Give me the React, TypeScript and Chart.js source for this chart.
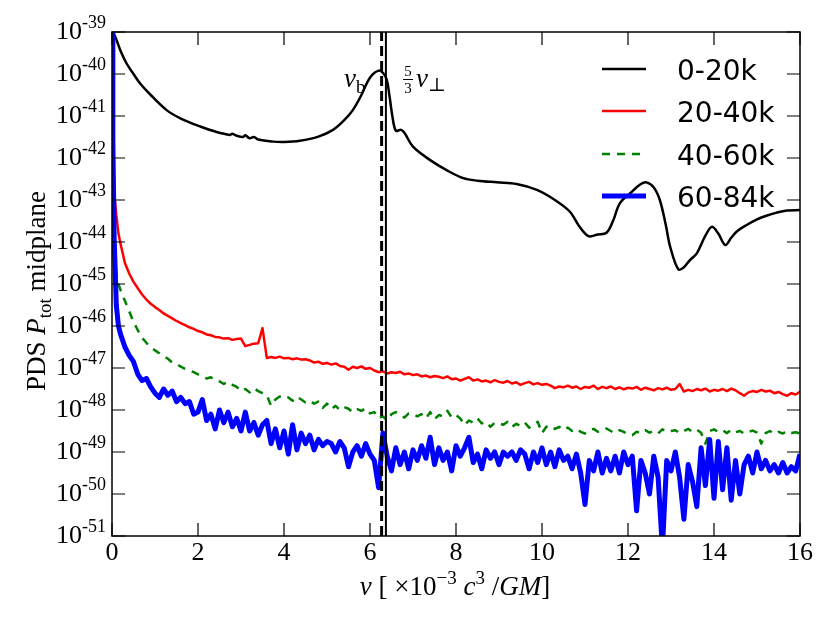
import { useEffect, useRef } from "react"
import { Chart, registerables } from "chart.js"

Chart.register(...registerables)

// frequency grid (x 10^-3 c^3/GM) shared by the noisy spectra
const freqGrid = [
  0, 0.02, 0.05, 0.1, 0.15,
  0.2, 0.3, 0.4, 0.5, 0.6, 0.7, 0.8, 0.9, 1.0,
  1.1, 1.2, 1.3, 1.4, 1.5, 1.6, 1.7, 1.8, 1.9, 2.0,
  2.1, 2.2, 2.3, 2.4, 2.5, 2.6, 2.7, 2.8, 2.9, 3.0,
  3.1, 3.2, 3.3, 3.4, 3.5, 3.6, 3.7, 3.8, 3.9, 4.0,
  4.1, 4.2, 4.3, 4.4, 4.5, 4.6, 4.7, 4.8, 4.9, 5.0,
  5.1, 5.2, 5.3, 5.4, 5.5, 5.6, 5.7, 5.8, 5.9, 6.0,
  6.1, 6.2, 6.3, 6.4, 6.5, 6.6, 6.7, 6.8, 6.9, 7.0,
  7.1, 7.2, 7.3, 7.4, 7.5, 7.6, 7.7, 7.8, 7.9, 8.0,
  8.1, 8.2, 8.3, 8.4, 8.5, 8.6, 8.7, 8.8, 8.9, 9.0,
  9.1, 9.2, 9.3, 9.4, 9.5, 9.6, 9.7, 9.8, 9.9, 10.0,
  10.1, 10.2, 10.3, 10.4, 10.5, 10.6, 10.7, 10.8, 10.9, 11.0,
  11.1, 11.2, 11.3, 11.4, 11.5, 11.6, 11.7, 11.8, 11.9, 12.0,
  12.1, 12.2, 12.3, 12.4, 12.5, 12.6, 12.7, 12.8, 12.9, 13.0,
  13.1, 13.2, 13.3, 13.4, 13.5, 13.6, 13.7, 13.8, 13.9, 14.0,
  14.1, 14.2, 14.3, 14.4, 14.5, 14.6, 14.7, 14.8, 14.9, 15.0,
  15.1, 15.2, 15.3, 15.4, 15.5, 15.6, 15.7, 15.8, 15.9, 16.0,
]

// log10 of the PDS
const redLog = [
  -41.0, -42.3, -42.8, -43.35, -43.8,
  -44.05, -44.5, -44.75, -44.95, -45.1, -45.25, -45.37, -45.47, -45.55,
  -45.62, -45.7, -45.76, -45.82, -45.88, -45.93, -45.98, -46.03, -46.07, -46.12,
  -46.15, -46.2, -46.22, -46.26, -46.27, -46.3, -46.29, -46.33, -46.31, -46.3,
  -46.48, -46.45, -46.42, -46.41, -46.05, -46.76, -46.74, -46.76, -46.73, -46.77,
  -46.76, -46.79, -46.77, -46.8, -46.79, -46.82, -46.87, -46.85, -46.9, -46.88,
  -46.92, -46.89, -46.95, -46.97, -47.04, -46.97, -47.0, -46.96, -47.02, -47.0,
  -47.06, -47.1, -47.08, -47.13, -47.1, -47.12, -47.09, -47.15, -47.13, -47.17,
  -47.15, -47.2, -47.18, -47.22, -47.19, -47.21, -47.24, -47.2, -47.27, -47.25,
  -47.3, -47.26, -47.22, -47.3, -47.27, -47.32, -47.3, -47.34, -47.29, -47.33,
  -47.35, -47.31, -47.37, -47.34, -47.4, -47.36, -47.33, -47.39, -47.36, -47.4,
  -47.38, -47.42, -47.48, -47.44, -47.46, -47.42, -47.47, -47.44, -47.5, -47.45,
  -47.47, -47.42, -47.5, -47.45, -47.48, -47.44, -47.5, -47.46, -47.51, -47.47,
  -47.49, -47.45, -47.52, -47.47, -47.5, -47.53, -47.48, -47.51, -47.47, -47.52,
  -47.5, -47.38, -47.56, -47.52, -47.55, -47.5, -47.53, -47.49, -47.56, -47.52,
  -47.54, -47.5, -47.55, -47.49, -47.53, -47.6, -47.66, -47.58, -47.55, -47.57,
  -47.52, -47.56, -47.54, -47.6, -47.57, -47.62, -47.66, -47.6, -47.63, -47.57,
]

const greenLog = [
  -42.5, -43.8, -44.3, -44.75, -45.0,
  -45.15, -45.4, -45.65, -45.9, -46.1, -46.28, -46.4, -46.5, -46.58,
  -46.65, -46.72, -46.78, -46.87, -46.9, -46.97, -47.02, -47.06, -47.1, -47.15,
  -47.2, -47.25, -47.22, -47.3, -47.32, -47.38, -47.33, -47.4, -47.45, -47.55,
  -47.5, -47.58, -47.48, -47.55, -47.6, -47.65, -47.9, -47.75, -47.68, -47.65,
  -47.7, -47.78, -47.68, -47.75, -47.82, -47.78, -47.85, -47.8, -47.95, -47.85,
  -47.98, -47.9, -48.0, -47.93, -47.97, -48.05, -47.98, -48.02, -47.96, -48.08,
  -48.05, -48.2, -48.15, -48.25, -48.1, -48.05, -48.12, -48.18, -48.08, -48.1,
  -48.15, -48.1, -48.2, -48.05, -48.22, -48.12, -48.15, -48.02, -48.18, -48.12,
  -48.2, -48.36, -48.25, -48.3, -48.2, -48.32, -48.28, -48.4, -48.3, -48.32,
  -48.35, -48.28, -48.4, -48.33, -48.38, -48.3, -48.42, -48.35, -48.28, -48.55,
  -48.4, -48.37, -48.45, -48.4, -48.48, -48.42, -48.5, -48.45, -48.52, -48.56,
  -48.48, -48.45, -48.52, -48.48, -48.44, -48.5, -48.55, -48.48, -48.52, -48.58,
  -48.6, -48.52, -48.55, -48.48, -48.54, -48.5, -48.56, -48.46, -48.52, -48.5,
  -48.48, -48.55, -48.5, -48.45, -48.52, -48.47, -48.54, -48.8, -48.5, -48.46,
  -48.52, -48.48, -48.55, -48.47, -48.53, -48.5, -48.56, -48.52, -48.49, -48.54,
  -48.8, -48.55, -48.5, -48.57, -48.52, -48.56, -48.5, -48.55, -48.53, -48.56,
]

const blueLog = [
  -39.0, -41.6, -43.9, -45.5, -46.0,
  -46.2, -46.5, -46.7, -46.85, -47.15, -47.3, -47.25, -47.45, -47.6,
  -47.7, -47.5, -47.65, -47.55, -47.8, -47.7, -47.85, -47.8, -48.1, -48.05,
  -47.75, -48.25, -48.1, -48.45, -48.0, -48.3, -48.05, -48.4, -48.2, -48.5,
  -48.05, -48.5, -48.3, -48.6, -48.35, -48.25, -48.8, -48.45, -48.9, -48.5,
  -49.05, -48.35, -48.95, -48.55, -48.8, -48.6, -48.95, -48.7, -48.85, -48.75,
  -48.8, -49.0, -48.75, -48.9, -49.35, -49.0, -48.85, -49.1, -48.8, -49.05,
  -49.2, -49.85, -48.55, -49.1, -49.45, -48.9, -49.3, -49.0, -49.4, -48.95,
  -49.2, -48.85, -49.15, -48.65, -49.3, -48.9, -49.2, -49.0, -49.45, -48.85,
  -49.1, -48.9, -48.65, -49.25, -49.05, -49.4, -48.95, -49.15, -49.0, -49.3,
  -49.0, -49.1, -49.0, -49.2, -48.95, -49.05, -49.4, -49.0, -49.25, -48.9,
  -49.3, -49.0, -49.35, -48.95, -49.2, -49.1, -49.4, -49.05, -49.5, -50.25,
  -49.2, -49.45, -49.0, -49.5, -49.15, -49.45, -49.1, -49.5, -49.0, -49.3,
  -49.1, -50.4, -49.2, -49.5, -50.0, -49.1, -49.6, -51.3, -49.2, -49.45,
  -49.0, -49.6, -50.6, -49.3, -49.7, -50.3, -48.9, -49.8, -48.7, -50.1,
  -48.75, -49.9, -48.9, -50.15, -49.2, -50.0, -49.3, -49.1, -49.5, -49.0,
  -49.4, -49.2, -49.45, -49.3, -49.5, -49.25, -49.5, -49.35, -49.45, -49.05,
]

// the smooth 0-20k spectrum has its own sample points
const blackNu = [
  0, 0.07, 0.2, 0.34, 0.5, 0.65, 0.9, 1.27, 1.6, 2.05, 2.4, 2.74, 2.8, 2.9, 3.05,
  3.1, 3.2, 3.3, 3.4, 3.75, 4.0, 4.37, 4.8, 5.14, 5.4, 5.6, 5.8, 5.93, 6.05, 6.2,
  6.3, 6.39, 6.45, 6.52, 6.6, 6.72, 6.8, 7.0, 7.4, 7.8, 8.17, 8.5, 8.95, 9.41,
  9.88, 10.3, 10.65, 10.85, 11.08, 11.3, 11.5, 11.65, 11.81, 12.05, 12.3, 12.43,
  12.6, 12.74, 12.88, 12.98, 13.17, 13.3, 13.44, 13.6, 13.8, 13.95, 14.1, 14.26,
  14.4, 14.53, 14.75, 15.0, 15.2, 15.46, 15.7, 16.0,
]
const blackLog = [
  -39.0, -39.1, -39.45, -39.75, -40.0, -40.22, -40.5, -40.86, -41.06, -41.25, -41.37, -41.45, -41.42, -41.47, -41.5,
  -41.46, -41.53, -41.5, -41.56, -41.61, -41.62, -41.59, -41.49, -41.33, -41.1, -40.86, -40.5, -40.21, -40.02, -39.92,
  -39.97, -40.14, -40.5, -41.0, -41.35, -41.33, -41.4, -41.73, -42.05, -42.3, -42.48, -42.54, -42.58, -42.62,
  -42.76, -43.0, -43.28, -43.6, -43.86, -43.82, -43.78, -43.5, -43.08, -42.84, -42.62, -42.58,
  -42.7, -43.0, -43.6, -44.11, -44.65, -44.6, -44.43, -44.27, -43.85, -43.64, -43.8, -44.07,
  -43.9, -43.75, -43.6, -43.46, -43.38, -43.3, -43.25, -43.24,
]

const seriesLabels = ["0-20k", "20-40k", "40-60k", "60-84k"]

// marked frequencies: nu_b and (5/3) nu_perp
const nuB = 6.27
const nuPerp53 = 6.37

const xTicks = [0, 2, 4, 6, 8, 10, 12, 14, 16]
const yExps = [-51, -50, -49, -48, -47, -46, -45, -44, -43, -42, -41, -40, -39]

const SERIF = '"Liberation Serif", "DejaVu Serif", serif'

type Seg = { t: string; size: number; italic?: boolean; dy?: number }

function drawSegs(ctx: CanvasRenderingContext2D, segs: Seg[], x: number, y: number, measureOnly = false) {
  let cx = x
  for (const s of segs) {
    ctx.font = `${s.italic ? "italic " : ""}${s.size}px ${SERIF}`
    if (!measureOnly) ctx.fillText(s.t, cx, y + (s.dy || 0))
    cx += ctx.measureText(s.t).width
  }
  return cx - x
}

const decorations = {
  id: "decorations",
  afterDraw(chart: any) {
    const { ctx, chartArea: a } = chart
    const xs = chart.scales.x
    const ys = chart.scales.y
    ctx.save()
    ctx.strokeStyle = "#000"
    ctx.fillStyle = "#000"

    // frame
    ctx.lineWidth = 1.5
    ctx.strokeRect(a.left, a.top, a.right - a.left, a.bottom - a.top)

    // inward ticks
    ctx.lineWidth = 1.2
    ctx.beginPath()
    for (const v of xTicks) {
      const px = xs.getPixelForValue(v)
      ctx.moveTo(px, a.bottom)
      ctx.lineTo(px, a.bottom - 13)
      ctx.moveTo(px, a.top)
      ctx.lineTo(px, a.top + 13)
    }
    for (const e of yExps) {
      const py = ys.getPixelForValue(10 ** e)
      ctx.moveTo(a.left, py)
      ctx.lineTo(a.left + 13, py)
      ctx.moveTo(a.right, py)
      ctx.lineTo(a.right - 13, py)
    }
    ctx.stroke()

    // x tick labels
    ctx.textBaseline = "alphabetic"
    ctx.textAlign = "center"
    ctx.font = `26px ${SERIF}`
    for (const v of xTicks) {
      ctx.fillText(String(v), xs.getPixelForValue(v), 560)
    }

    // y tick labels 10^e
    for (const e of yExps) {
      const py = ys.getPixelForValue(10 ** e)
      ctx.textAlign = "right"
      ctx.font = `26px ${SERIF}`
      ctx.fillText("10", 82, py + 7)
      ctx.textAlign = "left"
      ctx.font = `18px ${SERIF}`
      ctx.fillText(String(e), 82, py - 4)
    }

    // x axis title
    ctx.textAlign = "left"
    const xTitle: Seg[] = [
      { t: "ν", size: 27, italic: true },
      { t: " [ ×10", size: 27 },
      { t: "−3", size: 19, dy: -11 },
      { t: " ", size: 27 },
      { t: "c", size: 27, italic: true },
      { t: "3", size: 19, dy: -11 },
      { t: " /", size: 27 },
      { t: "GM", size: 27, italic: true },
      { t: "]", size: 27 },
    ]
    const xw = drawSegs(ctx, xTitle, 0, 0, true)
    drawSegs(ctx, xTitle, 455 - xw / 2, 595)

    // y axis title
    const yTitle: Seg[] = [
      { t: "PDS ", size: 27 },
      { t: "P", size: 27, italic: true },
      { t: "tot", size: 19, dy: 6 },
      { t: " midplane", size: 27 },
    ]
    const yw = drawSegs(ctx, yTitle, 0, 0, true)
    ctx.save()
    ctx.translate(45, 291)
    ctx.rotate(-Math.PI / 2)
    drawSegs(ctx, yTitle, -yw / 2, 0)
    ctx.restore()

    // annotations
    drawSegs(ctx, [{ t: "ν", size: 27, italic: true }, { t: "b", size: 19, dy: 6 }], 344, 87)
    ctx.textAlign = "center"
    ctx.font = `15px ${SERIF}`
    ctx.fillText("5", 408, 76)
    ctx.fillText("3", 408, 93)
    ctx.lineWidth = 1
    ctx.beginPath()
    ctx.moveTo(403, 79.5)
    ctx.lineTo(413, 79.5)
    ctx.stroke()
    ctx.textAlign = "left"
    drawSegs(ctx, [{ t: "ν", size: 27, italic: true }, { t: "⊥", size: 19, dy: 4 }], 416, 87)

    // legend
    const rows = [69, 111, 154, 196]
    chart.data.datasets.forEach((ds: any, i: number) => {
      if (i >= seriesLabels.length) return
      const ry = rows[i]
      ctx.save()
      ctx.strokeStyle = ds.borderColor
      ctx.lineWidth = ds.borderWidth
      ctx.setLineDash(ds.borderDash || [])
      ctx.beginPath()
      ctx.moveTo(602, ry)
      ctx.lineTo(646, ry)
      ctx.stroke()
      ctx.restore()
      ctx.font = '28px "DejaVu Sans", sans-serif'
      ctx.textAlign = "left"
      ctx.fillText(ds.label, 677, ry + 11)
    })

    ctx.restore()
  },
}

export default function App() {
  const canvasRef = useRef<HTMLCanvasElement>(null)
  const chartRef = useRef<Chart | null>(null)

  useEffect(() => {
    if (!canvasRef.current) return
    if (chartRef.current) chartRef.current.destroy()

    const grid = (logs: number[]) => freqGrid.map((x, i) => ({ x, y: 10 ** logs[i] }))
    const vline = (v: number) => [
      { x: v, y: 10 ** yExps[0] },
      { x: v, y: 10 ** yExps[yExps.length - 1] },
    ]

    chartRef.current = new Chart(canvasRef.current, {
      type: "line",
      data: {
        datasets: [
          {
            label: seriesLabels[0],
            data: blackNu.map((x, i) => ({ x, y: 10 ** blackLog[i] })),
            borderColor: "#000000",
            borderWidth: 2.5,
            tension: 0.35,
            order: 4,
          },
          {
            label: seriesLabels[1],
            data: grid(redLog),
            borderColor: "#ff0000",
            borderWidth: 2.5,
            order: 3,
          },
          {
            label: seriesLabels[2],
            data: grid(greenLog),
            borderColor: "#008000",
            borderWidth: 2.5,
            borderDash: [8, 7],
            order: 2,
          },
          {
            label: seriesLabels[3],
            data: grid(blueLog),
            borderColor: "#0000ff",
            borderWidth: 5,
            order: 1,
          },
          {
            label: "",
            data: vline(nuB),
            borderColor: "#000000",
            borderWidth: 3,
            borderDash: [10, 5],
            order: 0,
          },
          {
            label: "",
            data: vline(nuPerp53),
            borderColor: "#000000",
            borderWidth: 2,
            order: 0,
          },
        ],
      },
      options: {
        responsive: false,
        animation: false,
        parsing: false,
        normalized: true,
        layout: { padding: { left: 112, top: 32, right: 30, bottom: 87 } },
        elements: {
          point: { radius: 0 },
          line: { borderJoinStyle: "round", borderCapStyle: "butt", tension: 0 },
        },
        scales: {
          x: { type: "linear", min: 0, max: 16, display: false },
          y: {
            type: "logarithmic",
            min: 10 ** yExps[0],
            max: 10 ** yExps[yExps.length - 1],
            display: false,
            afterBuildTicks: (scale: any) => {
              scale.ticks = yExps.map((e) => ({ value: 10 ** e }))
            },
          },
        },
        plugins: {
          legend: { display: false },
          tooltip: { enabled: false },
        },
      },
      plugins: [decorations],
    } as any)

    return () => {
      if (chartRef.current) {
        chartRef.current.destroy()
        chartRef.current = null
      }
    }
  }, [])

  return (
    <div style={{ position: "absolute", left: 0, top: 0, width: 830, height: 623, background: "#fff" }}>
      <canvas ref={canvasRef} width={830} height={623} />
    </div>
  )
}
